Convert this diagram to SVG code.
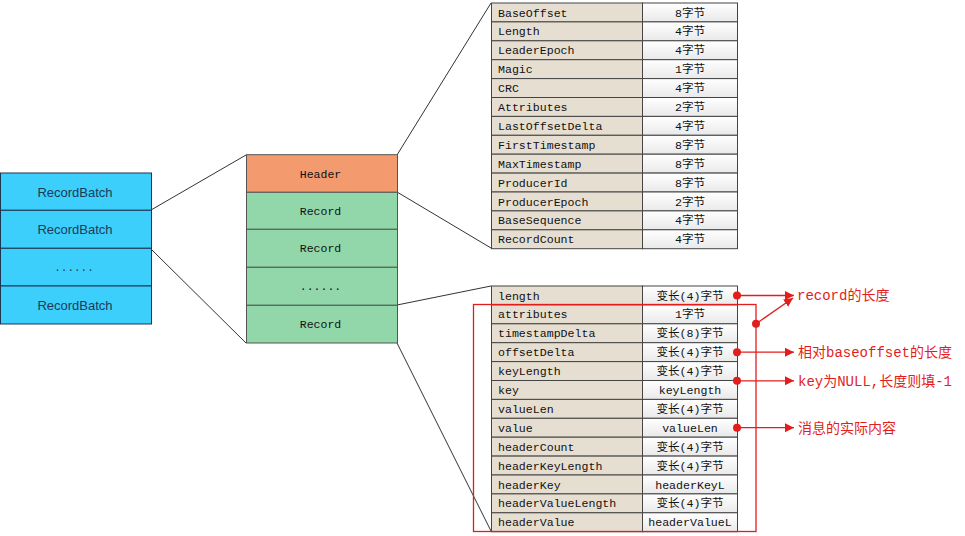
<svg xmlns="http://www.w3.org/2000/svg" width="965" height="536" viewBox="0 0 965 536">
<defs>
<linearGradient id="gw" x1="0" y1="0" x2="0" y2="1">
<stop offset="0" stop-color="#ffffff"/>
<stop offset="1" stop-color="#e9e9e9"/>
</linearGradient>
<marker id="ah" markerUnits="userSpaceOnUse" markerWidth="10" markerHeight="10" refX="9" refY="5" orient="auto">
<path d="M0,0.5 L9,5 L0,9.5 Z" fill="#e31c1c"/>
</marker>
<style>
.rb{fill:#3ccffb;stroke:#1c3552;stroke-width:1}
.rbt{font-family:"Liberation Sans","Noto Sans",sans-serif;font-size:13px;fill:#1d3a57;text-anchor:middle}
.rbd{font-family:"Liberation Mono",monospace;font-size:11px;fill:#1d3a57;text-anchor:middle}
.hd{fill:#f39b6e;stroke:#555;stroke-width:1}
.rc{fill:#92d7aa;stroke:#555;stroke-width:1}
.mt{font-family:"Liberation Mono","Noto Sans CJK SC",monospace;font-size:11.5px;fill:#111;text-anchor:middle}
.kc{fill:#e6dfd1;stroke:#444;stroke-width:1}
.vc{fill:url(#gw);stroke:#444;stroke-width:1}
.kt{font-family:"Liberation Mono","Noto Sans CJK SC",monospace;font-size:11.6px;fill:#111}
.vt{font-family:"Liberation Mono","Noto Sans CJK SC",monospace;font-size:11.6px;fill:#111;text-anchor:middle}
.ln{stroke:#333;stroke-width:1;fill:none}
.rl{stroke:#e31c1c;stroke-width:1.3;fill:none}
.dot{fill:#e31c1c}
.rt{font-family:"Liberation Mono","Noto Sans CJK SC",monospace;font-size:14px;fill:#e31c1c}
</style>
</defs>
<rect width="965" height="536" fill="#ffffff"/>

<g id="connectors">
<line class="ln" x1="151" y1="210" x2="246" y2="155"/>
<line class="ln" x1="151" y1="249" x2="246" y2="343"/>
<line class="ln" x1="397" y1="155" x2="491" y2="3"/>
<line class="ln" x1="397" y1="192" x2="491" y2="248"/>
<line class="ln" x1="397" y1="305" x2="491" y2="286"/>
<line class="ln" x1="397" y1="343" x2="491" y2="531"/>
</g>

<g id="recordbatch-stack">
<rect class="rb" x="0.5" y="173" width="151" height="37.3"/>
<text class="rbt" x="75" y="196.5">RecordBatch</text>
<rect class="rb" x="0.5" y="210.3" width="151" height="38"/>
<text class="rbt" x="75" y="234">RecordBatch</text>
<rect class="rb" x="0.5" y="248.3" width="151" height="37.7"/>
<text class="rbd" x="74" y="271">......</text>
<rect class="rb" x="0.5" y="286" width="151" height="38"/>
<text class="rbt" x="75" y="310">RecordBatch</text>
</g>

<g id="batch-stack">
<rect class="hd" x="246.5" y="154.7" width="151" height="37.6"/>
<text class="mt" x="320.5" y="177.5">Header</text>
<rect class="rc" x="246.5" y="192.3" width="151" height="37"/>
<text class="mt" x="320.5" y="215">Record</text>
<rect class="rc" x="246.5" y="229.3" width="151" height="38"/>
<text class="mt" x="320.5" y="252">Record</text>
<rect class="rc" x="246.5" y="267.3" width="151" height="38"/>
<text class="mt" x="320.5" y="290">......</text>
<rect class="rc" x="246.5" y="305.3" width="151" height="37.7"/>
<text class="mt" x="320.5" y="328">Record</text>
</g>

<g id="header-table">
<rect class="kc" x="491.5" y="3" width="151" height="18.9"/><rect class="vc" x="642.5" y="3" width="95" height="18.9"/>
<text class="kt" x="498" y="16.5">BaseOffset</text><text class="vt" x="690" y="16.5">8字节</text>
<rect class="kc" x="491.5" y="21.9" width="151" height="18.9"/><rect class="vc" x="642.5" y="21.9" width="95" height="18.9"/>
<text class="kt" x="498" y="35.4">Length</text><text class="vt" x="690" y="35.4">4字节</text>
<rect class="kc" x="491.5" y="40.8" width="151" height="18.9"/><rect class="vc" x="642.5" y="40.8" width="95" height="18.9"/>
<text class="kt" x="498" y="54.3">LeaderEpoch</text><text class="vt" x="690" y="54.3">4字节</text>
<rect class="kc" x="491.5" y="59.7" width="151" height="18.9"/><rect class="vc" x="642.5" y="59.7" width="95" height="18.9"/>
<text class="kt" x="498" y="73.2">Magic</text><text class="vt" x="690" y="73.2">1字节</text>
<rect class="kc" x="491.5" y="78.6" width="151" height="18.9"/><rect class="vc" x="642.5" y="78.6" width="95" height="18.9"/>
<text class="kt" x="498" y="92.1">CRC</text><text class="vt" x="690" y="92.1">4字节</text>
<rect class="kc" x="491.5" y="97.5" width="151" height="18.9"/><rect class="vc" x="642.5" y="97.5" width="95" height="18.9"/>
<text class="kt" x="498" y="111">Attributes</text><text class="vt" x="690" y="111">2字节</text>
<rect class="kc" x="491.5" y="116.4" width="151" height="18.9"/><rect class="vc" x="642.5" y="116.4" width="95" height="18.9"/>
<text class="kt" x="498" y="129.9">LastOffsetDelta</text><text class="vt" x="690" y="129.9">4字节</text>
<rect class="kc" x="491.5" y="135.3" width="151" height="18.9"/><rect class="vc" x="642.5" y="135.3" width="95" height="18.9"/>
<text class="kt" x="498" y="148.8">FirstTimestamp</text><text class="vt" x="690" y="148.8">8字节</text>
<rect class="kc" x="491.5" y="154.2" width="151" height="18.9"/><rect class="vc" x="642.5" y="154.2" width="95" height="18.9"/>
<text class="kt" x="498" y="167.7">MaxTimestamp</text><text class="vt" x="690" y="167.7">8字节</text>
<rect class="kc" x="491.5" y="173.1" width="151" height="18.9"/><rect class="vc" x="642.5" y="173.1" width="95" height="18.9"/>
<text class="kt" x="498" y="186.6">ProducerId</text><text class="vt" x="690" y="186.6">8字节</text>
<rect class="kc" x="491.5" y="192" width="151" height="18.9"/><rect class="vc" x="642.5" y="192" width="95" height="18.9"/>
<text class="kt" x="498" y="205.5">ProducerEpoch</text><text class="vt" x="690" y="205.5">2字节</text>
<rect class="kc" x="491.5" y="210.9" width="151" height="18.9"/><rect class="vc" x="642.5" y="210.9" width="95" height="18.9"/>
<text class="kt" x="498" y="224.4">BaseSequence</text><text class="vt" x="690" y="224.4">4字节</text>
<rect class="kc" x="491.5" y="229.8" width="151" height="18.9"/><rect class="vc" x="642.5" y="229.8" width="95" height="18.9"/>
<text class="kt" x="498" y="243.3">RecordCount</text><text class="vt" x="690" y="243.3">4字节</text>
</g>

<g id="record-table">
<rect class="kc" x="491.5" y="286" width="151" height="18.9"/><rect class="vc" x="642.5" y="286" width="95" height="18.9"/>
<text class="kt" x="498" y="299.5">length</text><text class="vt" x="690" y="299.5">变长(4)字节</text>
<rect class="kc" x="491.5" y="304.9" width="151" height="18.9"/><rect class="vc" x="642.5" y="304.9" width="95" height="18.9"/>
<text class="kt" x="498" y="318.4">attributes</text><text class="vt" x="690" y="318.4">1字节</text>
<rect class="kc" x="491.5" y="323.8" width="151" height="18.9"/><rect class="vc" x="642.5" y="323.8" width="95" height="18.9"/>
<text class="kt" x="498" y="337.3">timestampDelta</text><text class="vt" x="690" y="337.3">变长(8)字节</text>
<rect class="kc" x="491.5" y="342.7" width="151" height="18.9"/><rect class="vc" x="642.5" y="342.7" width="95" height="18.9"/>
<text class="kt" x="498" y="356.2">offsetDelta</text><text class="vt" x="690" y="356.2">变长(4)字节</text>
<rect class="kc" x="491.5" y="361.6" width="151" height="18.9"/><rect class="vc" x="642.5" y="361.6" width="95" height="18.9"/>
<text class="kt" x="498" y="375.1">keyLength</text><text class="vt" x="690" y="375.1">变长(4)字节</text>
<rect class="kc" x="491.5" y="380.5" width="151" height="18.9"/><rect class="vc" x="642.5" y="380.5" width="95" height="18.9"/>
<text class="kt" x="498" y="394">key</text><text class="vt" x="690" y="394">keyLength</text>
<rect class="kc" x="491.5" y="399.4" width="151" height="18.9"/><rect class="vc" x="642.5" y="399.4" width="95" height="18.9"/>
<text class="kt" x="498" y="412.9">valueLen</text><text class="vt" x="690" y="412.9">变长(4)字节</text>
<rect class="kc" x="491.5" y="418.3" width="151" height="18.9"/><rect class="vc" x="642.5" y="418.3" width="95" height="18.9"/>
<text class="kt" x="498" y="431.8">value</text><text class="vt" x="690" y="431.8">valueLen</text>
<rect class="kc" x="491.5" y="437.2" width="151" height="18.9"/><rect class="vc" x="642.5" y="437.2" width="95" height="18.9"/>
<text class="kt" x="498" y="450.7">headerCount</text><text class="vt" x="690" y="450.7">变长(4)字节</text>
<rect class="kc" x="491.5" y="456.1" width="151" height="18.9"/><rect class="vc" x="642.5" y="456.1" width="95" height="18.9"/>
<text class="kt" x="498" y="469.6">headerKeyLength</text><text class="vt" x="690" y="469.6">变长(4)字节</text>
<rect class="kc" x="491.5" y="475" width="151" height="18.9"/><rect class="vc" x="642.5" y="475" width="95" height="18.9"/>
<text class="kt" x="498" y="488.5">headerKey</text><text class="vt" x="690" y="488.5">headerKeyL</text>
<rect class="kc" x="491.5" y="493.9" width="151" height="18.9"/><rect class="vc" x="642.5" y="493.9" width="95" height="18.9"/>
<text class="kt" x="498" y="507.4">headerValueLength</text><text class="vt" x="690" y="507.4">变长(4)字节</text>
<rect class="kc" x="491.5" y="512.8" width="151" height="18.9"/><rect class="vc" x="642.5" y="512.8" width="95" height="18.9"/>
<text class="kt" x="498" y="526.3">headerValue</text><text class="vt" x="690" y="526.3">headerValueL</text>
</g>

<g id="record-highlight">
<rect class="rl" x="473.5" y="304.5" width="282.5" height="227"/>
</g>

<g id="annotations">
<line class="rl" x1="737" y1="295.5" x2="794" y2="295.5" marker-end="url(#ah)"/>
<circle class="dot" cx="737" cy="295.5" r="4"/>
<line class="rl" x1="756" y1="323.8" x2="793" y2="298" marker-end="url(#ah)"/>
<circle class="dot" cx="756" cy="323.8" r="4"/>
<text class="rt" x="797" y="300">record的长度</text>
<line class="rl" x1="737" y1="352.2" x2="794" y2="352.2" marker-end="url(#ah)"/>
<circle class="dot" cx="737" cy="352.2" r="4"/>
<text class="rt" x="798" y="357">相对baseoffset的长度</text>
<line class="rl" x1="737" y1="380.8" x2="794" y2="380.8" marker-end="url(#ah)"/>
<circle class="dot" cx="737" cy="380.8" r="4"/>
<text class="rt" x="798" y="385.5">key为NULL,长度则填-1</text>
<line class="rl" x1="737" y1="427.7" x2="794" y2="427.7" marker-end="url(#ah)"/>
<circle class="dot" cx="737" cy="427.7" r="4"/>
<text class="rt" x="798" y="432.5">消息的实际内容</text>
</g>
</svg>
